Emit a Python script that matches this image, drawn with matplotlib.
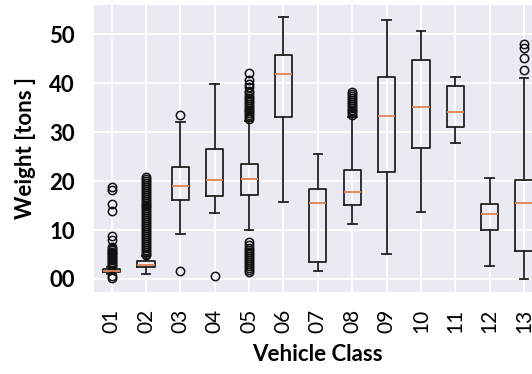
import matplotlib
matplotlib.use("Agg")
import matplotlib.pyplot as plt
from matplotlib.ticker import FuncFormatter

# box statistics (tons)
classes = ["01", "02", "03", "04", "05", "06", "07", "08", "09", "10", "11", "12", "13"]
medians = [1.7, 2.9, 19.0, 20.3, 20.4, 41.8, 15.6, 17.8, 33.3, 35.2, 34.0, 13.3, 15.6]
q1s = [1.4, 2.4, 16.1, 17.0, 17.2, 33.1, 3.4, 15.1, 21.9, 26.7, 31.0, 10.1, 5.7]
q3s = [2.0, 3.6, 22.9, 26.5, 23.4, 45.7, 18.3, 22.2, 41.2, 44.7, 39.5, 15.4, 20.2]
whis_lo = [1.0, 1.0, 9.2, 13.4, 10.0, 15.8, 1.7, 11.2, 5.2, 13.7, 27.7, 2.7, 0.0]
whis_hi = [2.5, 4.6, 32.0, 39.9, 32.2, 53.5, 25.5, 33.0, 52.9, 50.7, 41.3, 20.7, 41.0]

fliers = [
    [0.2, 0.7, 2.6, 2.9, 3.2, 3.5, 3.8, 4.1, 4.4, 4.7, 5.0, 5.3, 5.6, 5.9, 6.2, 6.6,
     7.9, 8.7, 13.8, 15.4, 18.1, 18.8],
    [4.8, 5.2, 5.6, 6.0, 6.4, 6.8, 7.2, 7.6, 8.0, 8.4, 8.8, 9.2, 9.6, 10.0, 10.4,
     10.8, 11.2, 11.6, 12.0, 12.4, 12.8, 13.2, 13.6, 14.0, 14.4, 14.8, 15.2, 15.6,
     16.0, 16.4, 16.8, 17.2, 17.6, 18.0, 18.4, 18.8, 19.2, 19.6, 20.0, 20.4, 20.8],
    [1.7, 33.5],
    [0.6],
    [1.5, 1.9, 2.3, 2.7, 3.1, 3.5, 3.9, 4.3, 4.7, 5.1, 5.5, 5.9, 6.3, 6.9, 7.6,
     32.6, 33.0, 33.4, 33.8, 34.2, 34.6, 35.0, 35.4, 35.8, 36.2, 36.6, 37.0, 37.4,
     37.9, 38.3, 39.3, 39.9, 40.7, 42.0],
    [],
    [],
    [33.4, 33.8, 34.2, 34.6, 35.0, 35.4, 35.8, 36.2, 36.6, 37.0, 37.4, 37.8, 38.1],
    [],
    [],
    [],
    [],
    [42.6, 45.1, 47.1, 48.0],
]

stats = []
for i, c in enumerate(classes):
    stats.append(dict(label=c, med=medians[i], q1=q1s[i], q3=q3s[i],
                      whislo=whis_lo[i], whishi=whis_hi[i], fliers=fliers[i]))

fig = plt.figure(figsize=(5.32, 3.74), dpi=100)
ax = fig.add_axes([0.1776, 0.220, 0.8397, 0.7674])
ax.set_facecolor("#eaeaf2")
ax.set_axisbelow(True)
ax.grid(True, color="white", linewidth=1.3)
for s in ax.spines.values():
    s.set_visible(False)

lw = 1.3
ax.bxp(stats, widths=0.5,
       boxprops=dict(color="#222222", linewidth=lw),
       whiskerprops=dict(color="#222222", linewidth=lw),
       capprops=dict(color="#222222", linewidth=lw),
       medianprops=dict(color="#dd8452", linewidth=lw),
       flierprops=dict(marker="o", markerfacecolor="none", markeredgecolor="#111111",
                       markersize=6, markeredgewidth=1.1))

ax.set_xlim(0.5, 13.5)
ax.set_ylim(-2.6, 56.0)
ax.set_yticks([0, 10, 20, 30, 40, 50])
ax.yaxis.set_major_formatter(FuncFormatter(lambda v, p: "%02d" % int(v)))
ax.tick_params(axis="both", length=0)
ax.tick_params(axis="y", pad=14)
ax.tick_params(axis="x", pad=12)

for t in ax.get_yticklabels():
    t.set_fontfamily("Lato")
    t.set_fontweight("bold")
    t.set_fontsize(16)
for t in ax.get_xticklabels():
    t.set_fontfamily("Lato")
    t.set_fontsize(15)
    t.set_rotation(90)

ax.set_xlabel("Vehicle Class", fontfamily="Lato", fontweight="bold", fontsize=16, labelpad=8)
ax.set_ylabel("Weight [tons ]", fontfamily="Lato", fontweight="bold", fontsize=16, labelpad=10)

fig.savefig("out.png", dpi=100)
plt.close(fig)
